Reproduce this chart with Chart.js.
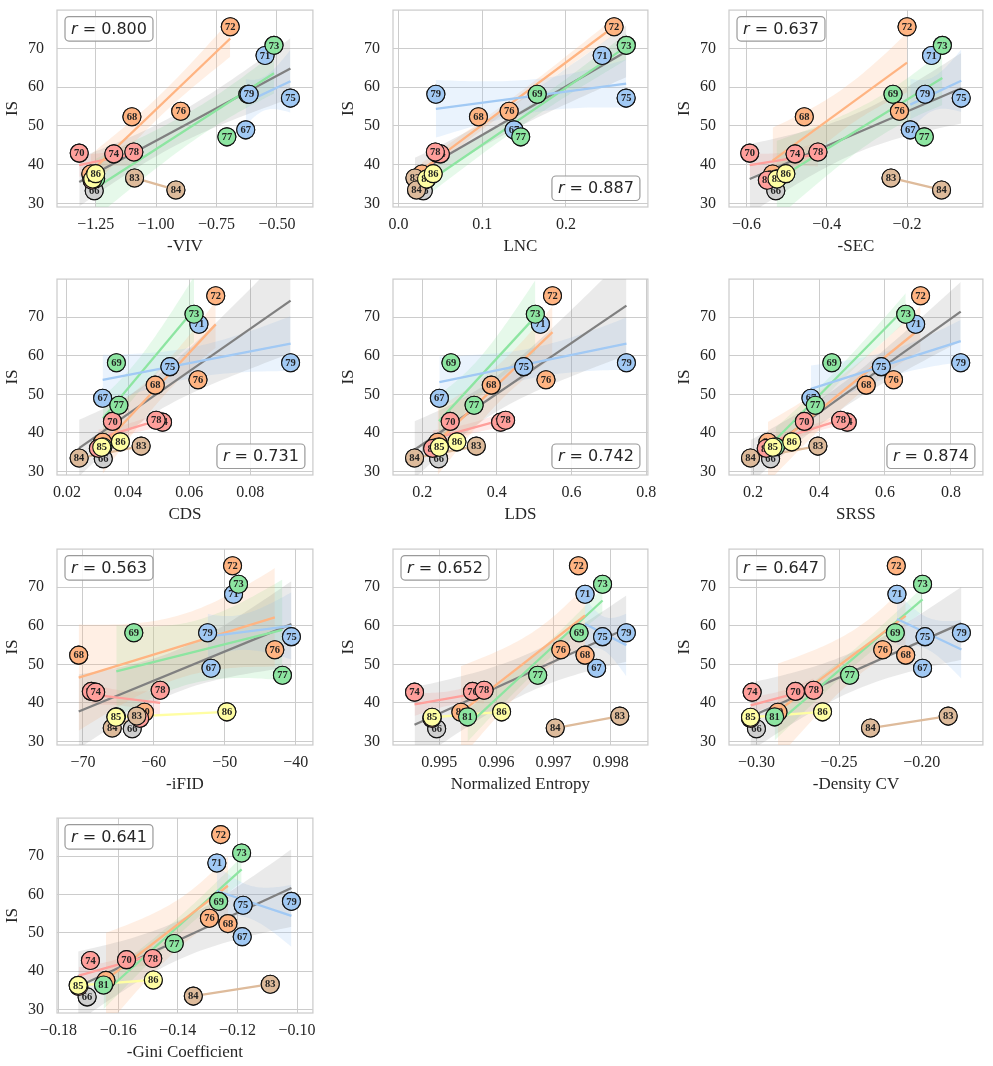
<!DOCTYPE html>
<html>
<head>
<meta charset="utf-8">
<script src="https://cdn.jsdelivr.net/npm/chart.js@4.4.1/dist/chart.umd.min.js"></script>
<style>
  body { margin:0; background:#fff; width:993px; height:1066px; overflow:hidden; position:relative; }
  canvas { position:absolute; }
</style>
</head>
<body>
<script>
// runs (point labels), group of each run and the IS value
const runs   = [66, 67, 68, 69, 70, 71, 72, 73, 74, 75, 76, 77, 78, 79, 80, 81, 82, 83, 84, 85, 86];
const groups = ['gray','blue','orange','green','red','blue','orange','green','red','blue','orange',
                'green','red','blue','orange','green','red','brown','brown','yellow','yellow'];
const IS     = [33.3, 49.0, 52.4, 58.2, 43.0, 68.2, 75.6, 70.8, 42.8, 57.2, 53.8,
                47.2, 43.3, 58.2, 37.6, 36.4, 36.0, 36.6, 33.5, 36.3, 37.7];

// metric values, same run order
const negVIV  = [-1.256, -0.629, -1.100, -0.620, -1.318, -0.549, -0.693, -0.512, -1.175, -0.444, -0.898,
                 -0.707, -1.092, -0.615, -1.270, -1.250, -1.265, -1.089, -0.918, -1.262, -1.250];
const LNC     = [0.0296, 0.138, 0.0955, 0.1657, 0.046, 0.2434, 0.2576, 0.2722, 0.050, 0.272, 0.1322,
                 0.146, 0.044, 0.0446, 0.028, 0.034, 0.031, 0.0196, 0.0215, 0.0335, 0.0414];
const negSEC  = [-0.527, -0.192, -0.456, -0.235, -0.592, -0.139, -0.200, -0.112, -0.479, -0.065, -0.219,
                 -0.157, -0.422, -0.155, -0.535, -0.525, -0.548, -0.240, -0.114, -0.524, -0.502];
const CDS     = [0.0319, 0.0317, 0.0489, 0.0362, 0.0349, 0.0632, 0.0687, 0.0616, 0.0513, 0.0537, 0.0629,
                 0.0370, 0.0492, 0.0932, 0.0317, 0.0318, 0.0303, 0.0443, 0.0240, 0.0314, 0.0375];
const LDS     = [0.244, 0.246, 0.385, 0.277, 0.275, 0.5165, 0.549, 0.503, 0.410, 0.472, 0.5315,
                 0.339, 0.4234, 0.747, 0.2415, 0.245, 0.228, 0.345, 0.1795, 0.246, 0.293];
const SRSS    = [0.2532, 0.3756, 0.543, 0.4388, 0.3555, 0.693, 0.708, 0.663, 0.4857, 0.589, 0.626,
                 0.3886, 0.4658, 0.8297, 0.245, 0.268, 0.240, 0.3966, 0.1922, 0.260, 0.3173];
const negIFID = [-63.05, -51.94, -70.6, -62.83, -68.82, -48.76, -48.9, -48.06, -68.21, -40.6, -42.94,
                 -41.87, -59.11, -52.42, -61.32, -65.3, -62.0, -62.4, -65.87, -65.35, -49.7];
const entropy = [0.994953, 0.997754, 0.997551, 0.997447, 0.995580, 0.997551, 0.997435, 0.997858, 0.994565,
                 0.997858, 0.997127, 0.996722, 0.995783, 0.998275, 0.995377, 0.995493, 0.994870, 0.998160,
                 0.997029, 0.994873, 0.996090];
const negDCV  = [-0.300, -0.1995, -0.2097, -0.216, -0.2764, -0.215, -0.2154, -0.1995, -0.3026, -0.198, -0.2236,
                 -0.2436, -0.2654, -0.176, -0.287, -0.289, -0.3035, -0.184, -0.231, -0.3036, -0.260];
const negGini = [-0.1704, -0.1184, -0.1232, -0.1263, -0.1572, -0.1269, -0.1256, -0.1186, -0.1693, -0.1181, -0.1294,
                 -0.1412, -0.1484, -0.1019, -0.1641, -0.1649, -0.1732, -0.1090, -0.1348, -0.1734, -0.1482];

const metricTitles = ['-VIV', 'LNC', '-SEC', 'CDS', 'LDS', 'SRSS', '-iFID', 'Normalized Entropy', '-Density CV', '-Gini Coefficient'];
const rValues = [0.800, 0.887, 0.637, 0.731, 0.742, 0.874, 0.563, 0.652, 0.647, 0.641];
const rCorner = ['tl', 'br', 'tl', 'br', 'br', 'br', 'tl', 'tl', 'tl', 'tl'];

// tick labels
const isTicks      = [30, 40, 50, 60, 70];
const vivTicks     = [-1.25, -1.00, -0.75, -0.50];
const lncTicks     = [0.0, 0.1, 0.2];
const secTicks     = [-0.6, -0.4, -0.2];
const cdsTicks     = [0.02, 0.04, 0.06, 0.08];
const ldsTicks     = [0.2, 0.4, 0.6, 0.8];
const srssTicks    = [0.2, 0.4, 0.6, 0.8];
const ifidTicks    = [-70, -60, -50, -40];
const entropyTicks = [0.995, 0.996, 0.997, 0.998];
const dcvTicks     = [-0.30, -0.25, -0.20];
const giniTicks    = [-0.18, -0.16, -0.14, -0.12, -0.10];
const tickDecimals = [2, 1, 1, 2, 1, 1, 0, 3, 2, 2];

// axis limits
const isLimits = [29.1, 79.9];
const xLimits = [
  [-1.41, -0.351], [-0.0066, 0.298], [-0.6436, -0.011], [0.01676, 0.1005], [0.1218, 0.8045],
  [0.127, 0.897], [-73.66, -37.57], [0.994188, 0.998652], [-0.3166, -0.163], [-0.1805, -0.0947]
];

const metricValues = [negVIV, LNC, negSEC, CDS, LDS, SRSS, negIFID, entropy, negDCV, negGini];
const metricTicks  = [vivTicks, lncTicks, secTicks, cdsTicks, ldsTicks, srssTicks, ifidTicks, entropyTicks, dcvTicks, giniTicks];

/* layout of the 3 x 4 grid (plot areas in page pixels) */
const colLeft = [57, 393, 729], colRight = [315, 650, 985];
const rowTop = [6, 275, 545, 814], rowBottom = [207, 475, 745, 1013];

const palette = {gray:'#cfcfcf', blue:'#a1c9f4', orange:'#ffb482', green:'#8de5a1',
                 red:'#ff9f9b', brown:'#debb9b', yellow:'#fffea3'};
const lineGroups = ['blue', 'orange', 'green', 'red', 'brown', 'yellow'];
const serif = '"Liberation Serif", "Times New Roman", serif';
const textColor = '#262626';

function rgba(hex, a){
  const n = parseInt(hex.slice(1), 16);
  return `rgba(${n >> 16},${(n >> 8) & 255},${n & 255},${a})`;
}

function fmt(v, dec){
  return (v < 0 ? '\u2212' : '') + Math.abs(v).toFixed(dec);
}

/* ordinary least squares + a band around it */
function fitLine(xs, ys){
  const n = xs.length;
  const mx = xs.reduce((s, v) => s + v, 0) / n;
  const my = ys.reduce((s, v) => s + v, 0) / n;
  let sxx = 0, sxy = 0;
  for (let i = 0; i < n; i++){ sxx += (xs[i] - mx) ** 2; sxy += (xs[i] - mx) * (ys[i] - my); }
  const b = sxy / sxx, a = my - b * mx;
  let sse = 0;
  for (let i = 0; i < n; i++) sse += (ys[i] - a - b * xs[i]) ** 2;
  const s = n > 2 ? Math.sqrt(sse / (n - 2)) : 0;
  return {n, a, b, mx, sxx, s};
}

function regDatasets(xs, ys, k, lineColor, bandColor, lineOrder){
  const out = [];
  if (xs.length < 2) return out;
  const f = fitLine(xs, ys);
  const lo = Math.min(...xs), hi = Math.max(...xs);
  if (f.n >= 3){
    const lower = [], upper = [];
    const steps = 40;
    for (let j = 0; j <= steps; j++){
      const x = lo + (hi - lo) * j / steps;
      const yh = f.a + f.b * x;
      const se = f.s * Math.sqrt(1 / f.n + (x - f.mx) ** 2 / f.sxx);
      lower.push({x, y: yh - k * se});
      upper.push({x, y: yh + k * se});
    }
    out.push({type:'line', data: lower, borderWidth: 0, borderColor:'transparent', pointRadius: 0, fill: false, order: 3});
    out.push({type:'line', data: upper, borderWidth: 0, borderColor:'transparent', pointRadius: 0,
              fill: '-1', backgroundColor: bandColor, order: 3});
  }
  out.push({type:'line', data: [{x: lo, y: f.a + f.b * lo}, {x: hi, y: f.a + f.b * hi}],
            borderColor: lineColor, borderWidth: 2.3, pointRadius: 0, fill: false, order: lineOrder});
  return out;
}

/* labels in circles, frame and r box */
const decoPlugin = {
  id: 'deco',
  beforeDatasetsDraw(chart){
    const {ctx, chartArea: a} = chart;
    ctx.save();
    ctx.strokeStyle = '#cccccc';
    ctx.lineWidth = 1.25;
    ctx.strokeRect(a.left, a.top, a.right - a.left, a.bottom - a.top);
    ctx.restore();
  },
  afterDatasetDraw(chart, args){
    const ds = chart.data.datasets[args.index];
    if (!ds.runLabels) return;
    const ctx = chart.ctx;
    ctx.save();
    args.meta.data.forEach((pt, i) => {
      pt.draw(ctx, chart.chartArea);
      ctx.font = 'bold 10.5px ' + serif;
      ctx.fillStyle = '#222';
      ctx.textAlign = 'center';
      ctx.textBaseline = 'middle';
      ctx.fillText(String(ds.runLabels[i]), pt.x, pt.y + 0.5);
    });
    ctx.restore();
  },
  afterDraw(chart, args, opts){
    const {ctx, chartArea: a} = chart;
    const fs = 16;
    ctx.save();
    ctx.font = `italic ${fs}px "DejaVu Sans"`;
    const w1 = ctx.measureText('r').width;
    ctx.font = `${fs}px "DejaVu Sans"`;
    const rest = ' = ' + opts.r.toFixed(3);
    const w2 = ctx.measureText(rest).width;
    const bw = w1 + w2 + 12, bh = 24.5;
    let bx, by;
    if (opts.corner === 'tl'){ bx = a.left + 8; by = a.top + 6.5; }
    else { bx = a.right - 8 - bw; by = a.bottom - 6.5 - bh; }
    ctx.beginPath();
    ctx.roundRect(bx, by, bw, bh, 4);
    ctx.fillStyle = 'rgba(255,255,255,0.85)';
    ctx.fill();
    ctx.strokeStyle = '#9a9a9a';
    ctx.lineWidth = 1.2;
    ctx.stroke();
    ctx.fillStyle = textColor;
    ctx.textBaseline = 'middle';
    ctx.textAlign = 'left';
    ctx.font = `italic ${fs}px "DejaVu Sans"`;
    ctx.fillText('r', bx + 6, by + bh / 2 + 1);
    ctx.font = `${fs}px "DejaVu Sans"`;
    ctx.fillText(rest, bx + 6 + w1, by + bh / 2 + 1);
    ctx.restore();
  }
};

metricValues.forEach((xs, idx) => {
  const col = idx % 3, row = Math.floor(idx / 3);
  const L = colLeft[col], R = colRight[col], T = rowTop[row], B = rowBottom[row];
  const W = R - L + 57 + 8, H = B - T + 6 + 52;
  const canvas = document.createElement('canvas');
  canvas.width = W; canvas.height = H;
  canvas.style.left = (L - 57) + 'px';
  canvas.style.top = (T - 6) + 'px';
  canvas.style.width = W + 'px';
  canvas.style.height = H + 'px';
  document.body.appendChild(canvas);

  const datasets = [{
    data: xs.map((x, i) => ({x, y: IS[i]})),
    pointRadius: 9,
    pointBackgroundColor: groups.map(g => palette[g]),
    pointBorderColor: '#111',
    pointBorderWidth: 1.1,
    runLabels: runs,
    order: 0
  }];

  // overall fit (gray) then one fit per group
  datasets.push(...regDatasets(xs, IS, 2.3, '#808080', 'rgba(128,128,128,0.17)', 2));
  lineGroups.forEach(g => {
    const gx = [], gy = [];
    xs.forEach((x, i) => { if (groups[i] === g){ gx.push(x); gy.push(IS[i]); } });
    datasets.push(...regDatasets(gx, gy, 0.95, palette[g], rgba(palette[g], 0.22), 1));
  });

  const ticksX = metricTicks[idx], dec = tickDecimals[idx];

  new Chart(canvas, {
    type: 'scatter',
    data: { datasets },
    plugins: [decoPlugin],
    options: {
      responsive: false,
      animation: false,
      events: [],
      devicePixelRatio: 1,
      layout: { padding: {left: 0, top: 6, right: 8, bottom: 0} },
      plugins: {
        legend: { display: false },
        tooltip: { enabled: false },
        deco: { r: rValues[idx], corner: rCorner[idx] }
      },
      scales: {
        x: {
          type: 'linear',
          min: xLimits[idx][0], max: xLimits[idx][1],
          afterBuildTicks: s => { s.ticks = ticksX.map(v => ({value: v})); },
          afterFit: s => { s.height = 52; s.paddingLeft = 0; s.paddingRight = 0; },
          ticks: { callback: v => fmt(v, dec), font: {family: serif, size: 16}, color: textColor,
                   padding: 8, maxRotation: 0, autoSkip: false },
          grid: { color: '#cccccc', lineWidth: 1, drawTicks: false },
          border: { display: false },
          title: { display: true, text: metricTitles[idx], font: {family: serif, size: 17},
                   color: textColor, padding: {top: 0, bottom: 2} }
        },
        y: {
          type: 'linear',
          min: isLimits[0], max: isLimits[1],
          afterBuildTicks: s => { s.ticks = isTicks.map(v => ({value: v})); },
          afterFit: s => { s.width = 57; s.paddingTop = 0; s.paddingBottom = 0; },
          ticks: { callback: v => fmt(v, 0), font: {family: serif, size: 16}, color: textColor, padding: 13 },
          grid: { color: '#cccccc', lineWidth: 1, drawTicks: false },
          border: { display: false },
          title: { display: true, text: 'IS', font: {family: serif, size: 17},
                   color: textColor, padding: {top: 2, bottom: 0} }
        }
      }
    }
  });
});
</script>
</body>
</html>
